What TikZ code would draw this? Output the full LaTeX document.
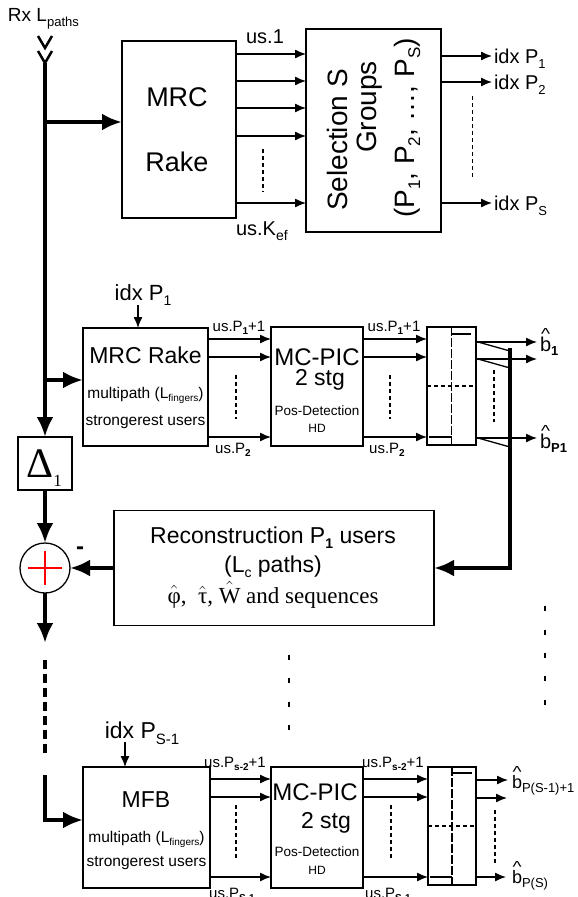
\documentclass[tikz,border=0pt]{standalone}
\usepackage{fontspec}
\setmainfont{Liberation Sans}
\newfontfamily\seriffont{Liberation Serif}
\usetikzlibrary{arrows.meta,calc}
\newcommand\fs[1]{\fontsize{#1}{#1}\selectfont}
\newcommand\dn[3]{\raisebox{-#1}{\fs{#2}#3}}
\newcommand\bhat{\vbox{\offinterlineskip\halign{\hfil##\hfil\cr{\fs{16pt}\scalebox{1.2}[1]{\textasciicircum}}\cr\noalign{\kern-3pt}b\cr}}}
\begin{document}
\begin{tikzpicture}[x=1pt,y=-1pt,
  every node/.style={inner sep=0pt, outer sep=0pt},
  box/.style={draw, line width=1.3pt, inner sep=0pt},
  tarr/.style={line width=1.3pt, -{Latex[length=11pt,width=9pt]}},
  karr/.style={line width=4pt, -{Latex[length=20pt,width=17pt]}},
  vdash/.style={line width=1.2pt, dash pattern=on 4pt off 3pt},
  ddash/.style={line width=1.8pt, dash pattern=on 9pt off 2pt},
  hdash/.style={line width=1.2pt, dash pattern=on 4pt off 3pt},
  dotm/.style={line width=2.5pt},
  thinl/.style={line width=1.3pt},
]
\useasboundingbox (0,0) rectangle (578,897);
% ---------------- top section
\node[anchor=base west] (rx) at (8,21) {\fs{19pt}Rx L\dn{5pt}{13pt}{paths}};
\coordinate (ant) at (45,63);
\draw[line width=2.5pt] (38,36) -- (45,48) -- (52,36);
\draw[line width=2.5pt] (38,51) -- (ant) -- (52,51);
\node[box, minimum width=114pt, minimum height=177pt] (mrc) at (179,129.5) {};
\node (mrct) at (177,97) {\fs{27pt}MRC};
\node (raket) at (177,162) {\fs{27pt}Rake};
\node[box, minimum width=135pt, minimum height=203pt] (sel) at (373.5,130.5) {};
\node[rotate=90] (sel1) at (337,140) {\fs{28pt}Selection S};
\node[rotate=90] (sel2) at (370,107) {\fs{28pt}Groups};
\node[rotate=90] (sel3) at (407,128) {\fs{28pt}(P\dn{6pt}{17pt}{1}, P\dn{6pt}{17pt}{2}, …, P\dn{6pt}{17pt}{S})};
\foreach \yy in {54,81,108,136,203} \draw[tarr] (mrc.east |- 0,\yy) -- (sel.west |- 0,\yy);
\draw[vdash] (263,149) -- (263,192);
\node[anchor=base] (us1) at (265,43) {\fs{20pt}us.1};
\node[anchor=base west] (usk) at (236,235) {\fs{20pt}us.K\dn{5pt}{14pt}{ef}};
\coordinate (jm) at (45,122);
\draw[karr] (jm) -- (mrc.west |- jm);
\coordinate (o1) at (492,56);
\coordinate (o2) at (492,82);
\coordinate (o3) at (492,203);
\draw[tarr] (sel.east |- o1) -- (o1);
\draw[tarr] (sel.east |- o2) -- (o2);
\draw[tarr] (sel.east |- o3) -- (o3);
\node[anchor=base west] (ix1) at (494,63) {\fs{20pt}idx P\dn{5pt}{13pt}{1}};
\node[anchor=base west] (ix2) at (494,89) {\fs{20pt}idx P\dn{5pt}{13pt}{2}};
\node[anchor=base west] (ix3) at (494,210) {\fs{20pt}idx P\dn{5pt}{13pt}{S}};
\draw[vdash] (472.5,96) -- (472.5,177);
% ---------------- stage 1
\node[anchor=base] (ip1) at (143,300) {\fs{22pt}idx P\dn{5pt}{14pt}{1}};
\coordinate (ia1) at (138,305);
\node[box, minimum width=125pt, minimum height=118pt] (mrc1) at (145.5,387) {};
\draw[tarr] (ia1) -- (ia1 |- mrc1.north);
\coordinate (jb) at (45,380);
\draw[karr] (jb) -- (mrc1.west |- jb);
\node[anchor=base] (m1a) at (145.5,363) {\fs{23pt}MRC Rake};
\node[anchor=base] (m1b) at (145.5,398) {\fs{15.5pt}multipath (L\dn{3pt}{10pt}{fingers})};
\node[anchor=base] (m1c) at (145.5,425) {\fs{15.5pt}strongerest users};
\node[box, minimum width=92pt, minimum height=119pt] (pic1) at (317,386.5) {};
\node[anchor=base] (p1a) at (317,365) {\fs{24pt}MC-PIC};
\node[anchor=base] (p1b) at (320,385) {\fs{23pt}2 stg};
\node[anchor=base] (p1c) at (317,415) {\fs{13.5pt}Pos-Detection};
\node[anchor=base] (p1d) at (317,432) {\fs{12pt}HD};
\node[box, minimum width=49pt, minimum height=118pt] (dec1) at (451.5,386) {};
\draw[ddash] (dec1.north) -- (dec1.south);
\draw[thinl] (451.5,334) -- (471,334);
\draw[thinl] (429,437) -- (451.5,437);
\draw[hdash] (dec1.west) -- (dec1.east);
\foreach \yy in {339,357,437} {
  \draw[tarr] (mrc1.east |- 0,\yy) -- (pic1.west |- 0,\yy);
  \draw[tarr] (pic1.east |- 0,\yy) -- (dec1.west |- 0,\yy);
}
\draw[vdash] (236,375) -- (236,419);
\draw[vdash] (390,375) -- (390,419);
\node[anchor=base] (u1a) at (239,331) {\fs{15pt}us.P\dn{3pt}{10pt}{\textbf{1}}+1};
\node[anchor=base] (u1b) at (394,331) {\fs{15pt}us.P\dn{3pt}{10pt}{\textbf{1}}+1};
\node[anchor=base] (u1c) at (233,453) {\fs{15pt}us.P\dn{3pt}{10pt}{\textbf{2}}};
\node[anchor=base] (u1d) at (387,453) {\fs{15pt}us.P\dn{3pt}{10pt}{\textbf{2}}};
\coordinate (b1) at (537,342);
\coordinate (b2) at (537,359);
\coordinate (b3) at (537,438);
\draw[tarr] (dec1.east |- b1) -- (b1);
\draw[tarr] (dec1.east |- b2) -- (b2);
\draw[tarr] (dec1.east |- b3) -- (b3);
\node[anchor=base west] (bl1) at (540,351) {\fs{20pt}\bhat\dn{4pt}{13pt}{\textbf{1}}};
\node[anchor=base west] (bl2) at (540,448) {\fs{20pt}\bhat\dn{4pt}{13pt}{\textbf{P1}}};
\draw[thinl] (478,342) -- (510,351);
\draw[thinl] (478,359) -- (510,368);
\draw[thinl] (478,438) -- (510,447);
\draw[vdash] (494,370) -- (494,422);
% ---------------- delta, sum, reconstruction
\node[box, minimum width=54pt, minimum height=53pt] (delta) at (45,463.5) {};
\node[anchor=base] (dl) at (44,477) {\seriffont\fs{42pt}Δ\dn{9pt}{17pt}{1}};
\draw[karr] (ant) -- (delta.north);
\node[draw, circle, line width=1.3pt, minimum size=50pt] (sum) at (45,568) {};
\draw[red, line width=1.5pt] ($(sum.center)+(-17,0)$) -- ($(sum.center)+(17,0)$);
\draw[red, line width=1.5pt] ($(sum.center)+(0,-17)$) -- ($(sum.center)+(0,17)$);
\node (minus) at (80,551) {\fs{24pt}\textbf{-}};
\draw[karr] (delta.south) -- (sum.north);
\node[box, minimum width=320pt, minimum height=115pt] (recon) at (274,568) {};
\node[anchor=base] (r1) at (273,543) {\fs{23pt}Reconstruction P\dn{5pt}{14pt}{\textbf{1}} users};
\node[anchor=base] (r2) at (273,572) {\fs{23pt}(L\dn{5pt}{14pt}{c} paths)};
\node[anchor=base] (r3) at (273,603) {\seriffont\fs{23pt}$\hat{\mbox{φ}}$,\ \ $\hat{\mbox{τ}}$, $\hat{\mbox{W}}$ and sequences};
\coordinate (tk) at (510,348);
\draw[karr] (tk) |- (recon.east);
\draw[karr] (recon.west) -- (sum.east);
\coordinate (d1) at (45,643);
\draw[karr] (sum.south) -- (d1);
\coordinate (d2) at (45,660);
\coordinate (d3) at (45,757);
\draw[line width=4pt, dash pattern=on 9pt off 5pt] (d2) -- (d3);
\coordinate (d4) at (45,775);
% dots
\foreach \yy in {657,680.5,704,727.5} \draw[dotm] (289,\yy-2.5) -- (289,\yy+2.5);
\foreach \yy in {608,632,655,678,702} \draw[dotm] (545,\yy-2.5) -- (545,\yy+2.5);
% ---------------- stage S
\node[anchor=base] (ips) at (142,738) {\fs{23pt}idx P\dn{6pt}{15pt}{S-1}};
\coordinate (ia2) at (125,742);
\node[box, minimum width=127pt, minimum height=121pt] (mfb) at (146.5,827.5) {};
\draw[tarr] (ia2) -- (ia2 |- mfb.north);
\draw[karr] (d4) |- (mfb.west |- 0,820);
\node[anchor=base] (m2a) at (146,807) {\fs{23pt}MFB};
\node[anchor=base] (m2b) at (146.5,842) {\fs{15.5pt}multipath (L\dn{3pt}{10pt}{fingers})};
\node[anchor=base] (m2c) at (146.5,866) {\fs{15.5pt}strongerest users};
\node[box, minimum width=92pt, minimum height=121pt] (pic2) at (317,827.5) {};
\node[anchor=base] (p2a) at (315,800) {\fs{24pt}MC-PIC};
\node[anchor=base] (p2b) at (326,828) {\fs{23pt}2 stg};
\node[anchor=base] (p2c) at (317,856) {\fs{13.5pt}Pos-Detection};
\node[anchor=base] (p2d) at (317,874) {\fs{12pt}HD};
\node[box, minimum width=48pt, minimum height=118pt] (dec2) at (452,826) {};
\draw[ddash] (dec2.north) -- (dec2.south);
\draw[thinl] (452,773) -- (472,773);
\draw[thinl] (430,877) -- (452,877);
\draw[hdash] (dec2.west) -- (dec2.east);
\foreach \yy in {779,797,877} {
  \draw[tarr] (mfb.east |- 0,\yy) -- (pic2.west |- 0,\yy);
  \draw[tarr] (pic2.east |- 0,\yy) -- (dec2.west |- 0,\yy);
}
\draw[vdash] (236,805) -- (236,860);
\draw[vdash] (391,805) -- (391,860);
\node[anchor=base] (u2a) at (235,767) {\fs{15pt}us.P\dn{3pt}{10pt}{\textbf{s-2}}+1};
\node[anchor=base] (u2b) at (393,767) {\fs{15pt}us.P\dn{3pt}{10pt}{\textbf{s-2}}+1};
\node[anchor=base] (u2c) at (232,898) {\fs{15pt}us.P\dn{3pt}{10pt}{\textbf{S-1}}};
\node[anchor=base] (u2d) at (388,898) {\fs{15pt}us.P\dn{3pt}{10pt}{\textbf{S-1}}};
\coordinate (c1) at (508,780);
\coordinate (c2) at (507,798);
\coordinate (c3) at (506,877);
\draw[tarr] (dec2.east |- c1) -- (c1);
\draw[tarr] (dec2.east |- c2) -- (c2);
\draw[tarr] (dec2.east |- c3) -- (c3);
\node[anchor=base west] (bs1) at (512,788) {\fs{18pt}\bhat\dn{4pt}{13pt}{P(S-1)+1}};
\node[anchor=base west] (bs2) at (512,883) {\fs{18pt}\bhat\dn{4pt}{13pt}{P(S)}};
\draw[vdash] (495,810) -- (495,863);
\end{tikzpicture}
\end{document}
